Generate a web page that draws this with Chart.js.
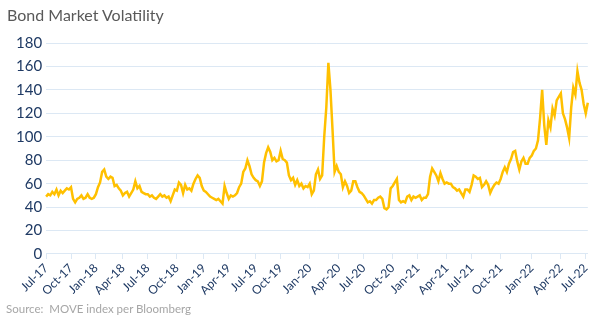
<!DOCTYPE html>
<html><head><meta charset="utf-8">
<script src="https://cdn.jsdelivr.net/npm/chart.js@4"></script>
<style>
html,body{margin:0;padding:0;background:#fff;}
#wrap{position:relative;width:600px;height:336px;overflow:hidden;}
#title{position:absolute;left:7px;top:5px;font:16px Lato,sans-serif;color:#595959;white-space:nowrap;}
#source{position:absolute;left:6px;top:302px;font:11.5px Lato,sans-serif;color:#a6a6a6;white-space:nowrap;}
canvas{position:absolute;left:0;top:0;}
</style></head><body>
<div id="wrap"><canvas id="c" width="600" height="336"></canvas>
<div id="title">Bond Market Volatility</div>
<div id="source">Source:&nbsp; MOVE index per Bloomberg</div></div>
<script>
// Quarter tick labels
const quarterLabels = ['Jul-17','Oct-17','Jan-18','Apr-18','Jul-18','Oct-18','Jan-19','Apr-19','Jul-19','Oct-19',
  'Jan-20','Apr-20','Jul-20','Oct-20','Jan-21','Apr-21','Jul-21','Oct-21','Jan-22','Apr-22','Jul-22'];

// MOVE index readings (approx. weekly), one array per quarter
const jul17 = [49, 51, 50, 53, 51, 55, 50, 54, 52, 54, 56, 55];
const oct17 = [57, 47, 44, 47, 48, 50, 47, 48, 51, 48, 47, 48];
const jan18 = [51, 57, 61, 70, 72, 66, 64, 66, 65, 58, 59, 56, 54];
const apr18 = [50, 52, 53, 49, 52, 55, 62, 56, 58, 53, 52, 51];
const jul18 = [51, 49, 50, 48, 47, 49, 51, 49, 50, 48, 49, 45, 50, 55];
const oct18 = [54, 61, 59, 52, 59, 55, 56, 54, 60, 64, 67, 65, 58];
const jan19 = [54, 53, 51, 49, 48, 47, 46, 47, 45, 43, 58, 52];
const apr19 = [47, 50, 49, 50, 52, 57, 60, 70, 73, 80, 75, 68, 65];
const jul19 = [63, 62, 58, 62, 78, 86, 91, 87, 80, 82, 79, 80];
const oct19 = [88, 81, 80, 78, 67, 63, 65, 59, 63, 58, 60, 56, 58, 57];
const jan20 = [60, 51, 54, 68, 72, 64, 67, 100, 125, 163, 140, 106, 70, 75];
const apr20 = [70, 68, 57, 62, 58, 52, 54, 62, 62, 57, 53, 52];
const jul20 = [50, 47, 44, 45, 43, 46, 46, 48, 49, 47, 39, 38, 40, 56];
const oct20 = [58, 61, 64, 46, 44, 45, 44, 49, 50, 46, 49, 48];
const jan21 = [49, 50, 46, 48, 48, 51, 66, 73, 70, 67, 62, 69, 64, 60];
const apr21 = [61, 60, 60, 57, 56, 54, 55, 52, 49, 55, 55, 53];
const jul21 = [59, 67, 66, 64, 65, 57, 59, 62, 59, 52, 56, 59, 61, 60];
const oct21 = [64, 70, 74, 70, 77, 81, 87, 88, 79, 72, 79, 82, 77, 77, 82];
const jan22 = [84, 88, 90, 97, 116, 140, 110, 93, 114, 108, 124, 118, 131, 134];
const apr22 = [137, 120, 115, 108, 99, 125, 142, 136, 156, 146, 140, 128];
const jul22 = [120, 129];

const quarters = [jul17, oct17, jan18, apr18, jul18, oct18, jan19, apr19, jul19, oct19,
  jan20, apr20, jul20, oct20, jan21, apr21, jul21, oct21, jan22, apr22, jul22];

const labels = [];
const values = [];
quarters.forEach((q, qi) => {
  q.forEach((v, k) => { labels.push(k === 0 ? quarterLabels[qi] : ''); values.push(v); });
});

const navy = '#1f3a64';
const gridCol = '#dce8f4';

new Chart(document.getElementById('c'), {
  type: 'line',
  data: { labels: labels, datasets: [{ data: values, borderColor: '#FFC000', borderWidth: 2.5,
    pointRadius: 0, tension: 0, fill: false }] },
  options: {
    responsive: false, animation: false,
    layout: { padding: { top: 43, left: 12, right: 12, bottom: 36 } },
    plugins: { legend: { display: false }, tooltip: { enabled: false }, title: { display: false } },
    scales: {
      x: {
        type: 'category',
        offset: false,
        border: { display: true, color: gridCol, width: 1 },
        grid: { display: true, drawOnChartArea: false, drawTicks: true, tickLength: 5,
          tickColor: ctx => (ctx.tick && ctx.tick.label) ? gridCol : 'rgba(0,0,0,0)' },
        ticks: { autoSkip: false, maxRotation: 45, minRotation: 45, padding: 2,
          color: navy, font: { family: 'Lato', size: 12 },
          callback: function (val) { return this.getLabelForValue(val); } }
      },
      y: {
        min: 0, max: 180,
        border: { display: false },
        grid: { color: gridCol, lineWidth: 1, drawTicks: false },
        ticks: { stepSize: 20, padding: 4, color: navy, font: { family: 'Lato', size: 15 } }
      }
    }
  }
});
</script>
</body></html>
